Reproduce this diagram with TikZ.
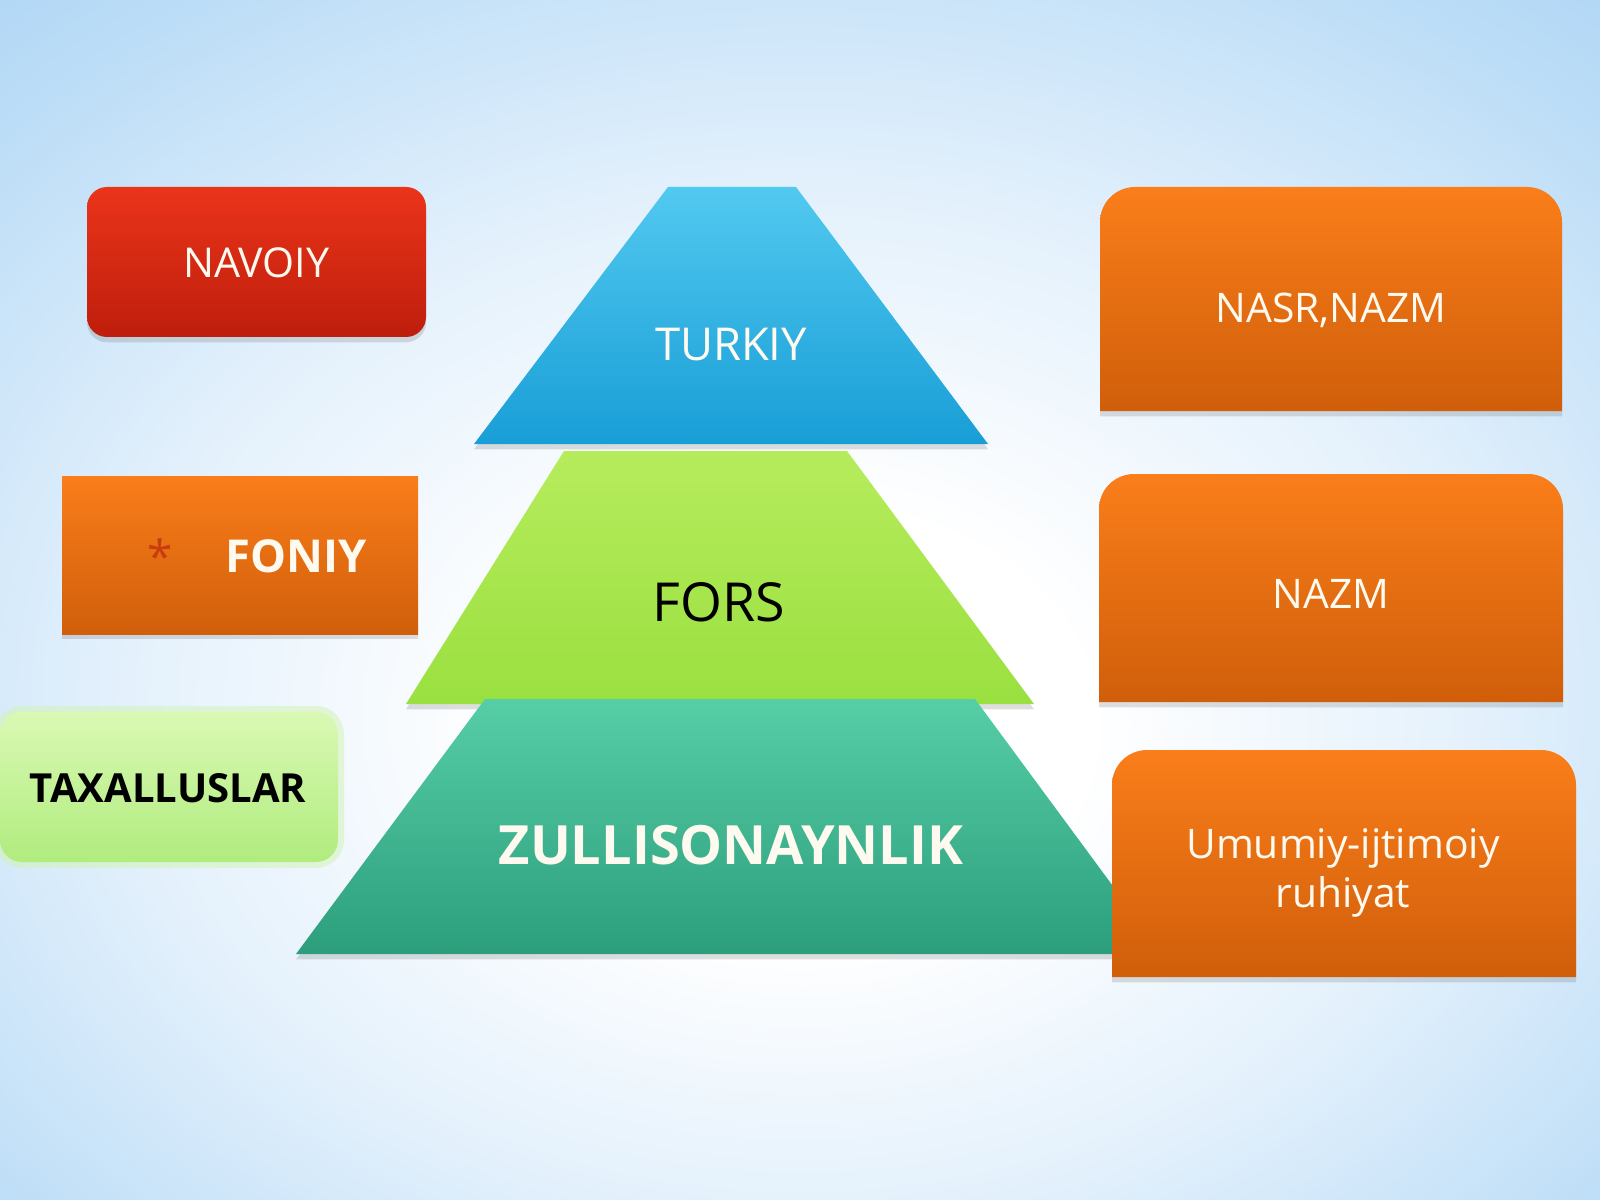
\documentclass[tikz,border=0pt]{standalone}
\usepackage{fontspec}
\setmainfont{Open Sans}
\usetikzlibrary{shadows}

\definecolor{bgblue}{RGB}{150,200,242}
\definecolor{bgedge}{RGB}{190,222,247}
\definecolor{bgmid}{RGB}{228,241,252}
\definecolor{navoiytop}{RGB}{234,52,26}
\definecolor{navoiybot}{RGB}{190,30,12}
\definecolor{orangetop}{RGB}{250,126,26}
\definecolor{orangebot}{RGB}{208,94,10}
\definecolor{turkiytop}{RGB}{82,201,240}
\definecolor{turkiybot}{RGB}{24,158,214}
\definecolor{forstop}{RGB}{182,236,92}
\definecolor{forsbot}{RGB}{154,224,64}
\definecolor{zultop}{RGB}{86,206,166}
\definecolor{zulbot}{RGB}{44,158,124}
\definecolor{taxtop}{RGB}{218,249,180}
\definecolor{taxbot}{RGB}{176,236,126}
\definecolor{starred}{RGB}{200,60,15}
\definecolor{lighttext}{RGB}{255,250,240}

\pgfdeclareradialshading{bgglow}{\pgfpoint{0bp}{-6bp}}{color(0bp)=(white); color(9bp)=(white); color(21bp)=(bgmid); color(33bp)=(bgedge); color(48bp)=(bgblue); color(72bp)=(bgblue)}

\tikzset{
 softshadow/.style={drop shadow={shadow xshift=0pt,shadow yshift=-1.5pt,opacity=.18,fill=black!70}},
 redbox/.style={top color=navoiytop,bottom color=navoiybot,softshadow},
 orangebox/.style={top color=orangetop,bottom color=orangebot,softshadow},
 label/.style={text=lighttext,align=center,inner sep=0pt}
}

\begin{document}
\begin{tikzpicture}[x=0.1mm,y=0.1mm]
\useasboundingbox (0,0) rectangle (1600,-1200);
\shade[shading=bgglow] (0,0) rectangle (1600,-1200);

% pyramid
\shade[top color=turkiytop,bottom color=turkiybot,softshadow] (474,-444) -- (668,-187) -- (796,-187) -- (988,-444) -- cycle;
\node[label,font=\fontsize{12.9}{15}\selectfont] (turkiy) at (731,-345) {TURKIY};
\shade[top color=forstop,bottom color=forsbot,softshadow] (406,-704) -- (564,-451) -- (847,-451) -- (1034,-704) -- cycle;
\node[label,text=black,font=\fontsize{15.3}{18}\selectfont] (fors) at (719,-602) {FORS};
\shade[top color=zultop,bottom color=zulbot,softshadow] (296,-954) -- (485,-699) -- (975,-699) -- (1163,-954) -- cycle;
\node[label,font=\bfseries\fontsize{15.4}{18}\selectfont] (zul) at (731,-845) {ZULLISONAYNLIK};

% left column
\shade[redbox,rounded corners=2mm] (87,-187) rectangle (426,-337);
\node[label,font=\fontsize{11.7}{14}\selectfont] (navoiy) at (256,-263) {NAVOIY};
\shade[orangebox] (62,-476) rectangle (418,-634);
\node[label,font=\bfseries\fontsize{12.9}{15}\selectfont] (foniy) at (296,-556) {FONIY};
\node[label,text=starred,anchor=base,font=\fontsize{13}{15}\selectfont] (star) at (160,-573) {*};
\fill[taxbot!60,opacity=.5,rounded corners=2.8mm] (-6,-706) rectangle (344,-868);
\shade[top color=taxtop,bottom color=taxbot,rounded corners=2.2mm] (0,-712) rectangle (338,-862);
\node[label,text=black,font=\bfseries\fontsize{11.4}{14}\selectfont] (taxallus) at (168,-788) {TAXALLUSLAR};

% right column
\shade[orangebox] (1100,-411) -- (1100,-222) arc[start angle=180,end angle=90,radius=35] -- (1527,-187) arc[start angle=90,end angle=0,radius=35] -- (1562,-411) -- cycle;
\node[label,anchor=base,font=\fontsize{11.6}{14}\selectfont] (nasr) at (1331,-322) {NASR,NAZM};
\shade[orangebox] (1099,-702) -- (1099,-509) arc[start angle=180,end angle=90,radius=35] -- (1528,-474) arc[start angle=90,end angle=0,radius=35] -- (1563,-702) -- cycle;
\node[label,font=\fontsize{11.6}{14}\selectfont] (nazm) at (1331,-594) {NAZM};
\shade[orangebox] (1112,-977) -- (1112,-785) arc[start angle=180,end angle=90,radius=35] -- (1541,-750) arc[start angle=90,end angle=0,radius=35] -- (1576,-977) -- cycle;
\node[label,font=\fontsize{11.6}{13.9}\selectfont] (umumiy) at (1343,-873) {Umumiy-ijtimoiy\\ruhiyat};
\end{tikzpicture}
\end{document}
